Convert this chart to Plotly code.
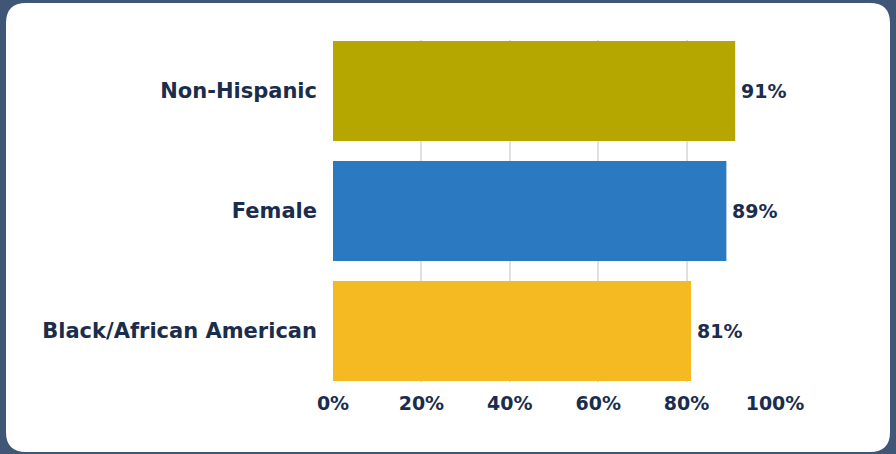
import plotly.graph_objects as go

# Survey share by group
categories = ["Non-Hispanic", "Female", "Black/African American"]
values = [91, 89, 81]
bar_colors = ["#b5a600", "#2b79c0", "#f5ba22"]
tick_vals = [0, 20, 40, 60, 80, 100]
tick_text = ["0%", "20%", "40%", "60%", "80%", "100%"]

W, H = 896, 454
NAVY = "#1b2d4d"
FONT = "DejaVu Sans"

fig = go.Figure(
    go.Bar(
        x=values,
        y=categories,
        orientation="h",
        marker=dict(color=bar_colors, line=dict(width=0)),
        cliponaxis=False,
        hoverinfo="skip",
    )
)

# Value labels just past each bar end
for cat, v in zip(categories, values):
    fig.add_annotation(
        x=v, y=cat, text=f"{v}%", showarrow=False,
        xanchor="left", yanchor="middle", xshift=4,
        font=dict(family=FONT, size=19, color=NAVY, weight="bold"),
    )

# White rounded card on the dark frame (paper units == pixels / figure size)
x0, x1, y0, y1 = 6, 890, 3, 452
r = 20
def px(x):
    return x / W
def py(y):
    return 1 - y / H
path = (
    f"M {px(x0 + r)},{py(y0)} L {px(x1 - r)},{py(y0)} "
    f"Q {px(x1)},{py(y0)} {px(x1)},{py(y0 + r)} "
    f"L {px(x1)},{py(y1 - r)} Q {px(x1)},{py(y1)} {px(x1 - r)},{py(y1)} "
    f"L {px(x0 + r)},{py(y1)} Q {px(x0)},{py(y1)} {px(x0)},{py(y1 - r)} "
    f"L {px(x0)},{py(y0 + r)} Q {px(x0)},{py(y0)} {px(x0 + r)},{py(y0)} Z"
)

fig.update_layout(
    width=W,
    height=H,
    margin=dict(l=0, r=0, t=0, b=0),
    paper_bgcolor="#3f5677",
    plot_bgcolor="rgba(0,0,0,0)",
    showlegend=False,
    bargap=1 / 6,
    shapes=[
        dict(
            type="path",
            path=path,
            xref="paper",
            yref="paper",
            fillcolor="white",
            line=dict(width=0),
            layer="below",
        )
    ],
    xaxis=dict(
        domain=[333 / W, 775 / W],
        range=[0, 100],
        automargin=False,
        tickvals=tick_vals,
        ticktext=tick_text,
        showgrid=True,
        gridcolor="#e0e0e0",
        gridwidth=1.5,
        zeroline=False,
        showline=False,
        ticks="",
        ticklabelstandoff=8,
        tickfont=dict(family=FONT, size=19, color=NAVY, weight="bold"),
        fixedrange=True,
    ),
    yaxis=dict(
        domain=[1 - 382 / H, 1 - 40 / H],
        range=[2.425, -0.425],
        automargin=False,
        showgrid=False,
        zeroline=False,
        showline=False,
        ticks="",
        ticklabelstandoff=15,
        tickfont=dict(family=FONT, size=21, color=NAVY, weight="bold"),
        fixedrange=True,
    ),
)

fig.write_html("out.html")
